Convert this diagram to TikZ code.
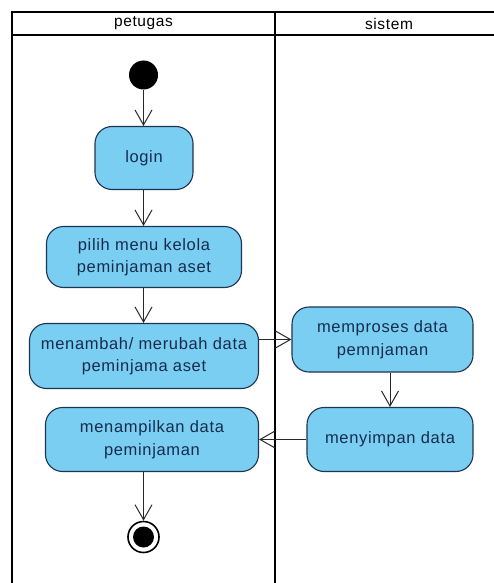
\documentclass[tikz,border=0pt]{standalone}
\usepackage{fontspec}
\setmainfont{Liberation Sans}[LetterSpace=4]
\usetikzlibrary{arrows.meta}
\definecolor{actfill}{RGB}{122,206,242}
\definecolor{actline}{RGB}{30,52,82}
\definecolor{acttext}{RGB}{22,44,78}
\definecolor{flowline}{RGB}{40,40,40}
\tikzset{
  lane/.style={line width=2.6pt, black},
  lanelabel/.style={font=\fontsize{15.5}{17}\selectfont, text=black},
  action/.style={draw=actline, fill=actfill, line width=1.1pt, rounded corners=17pt,
    align=center, text=acttext, font=\fontsize{16.5}{22.5}\selectfont, inner sep=0pt},
  startnode/.style={circle, fill=black, minimum size=29pt, inner sep=0pt},
  endnode/.style={circle, draw=black, line width=1.6pt, fill=white, minimum size=31pt, inner sep=0pt,
    path picture={\fill[black] (path picture bounding box.center) circle (10.5pt);}},
  flow/.style={draw=flowline, line width=1pt, -{Straight Barb[length=15pt,width=17pt,line width=1pt]}}
}
\begin{document}
\begin{tikzpicture}[x=1pt,y=-1pt]
\useasboundingbox (0,0) rectangle (494,583);
\fill[white] (0,0) rectangle (494,583);

% swimlane frame
\draw[lane] (12,583) -- (12,12) -- (494,12);
\draw[lane] (12,35) -- (494,35);
\draw[lane] (275,12) -- (275,583);
\node[lanelabel] (lanepetugas) at (143.5,23.5) {petugas};
\node[lanelabel] (lanesistem) at (389,23.5) {sistem};

% activities
\node[startnode] (start) at (143.5,75) {};
\node[action, minimum width=98pt, minimum height=63pt] (login) at (144,158) {login};
\node[action, minimum width=195pt, minimum height=61pt] (pilih) at (144,257) {pilih menu kelola\\peminjaman aset};
\node[action, minimum width=229pt, minimum height=65pt] (tambah) at (144,356) {menambah/ merubah data\\peminjama aset};
\node[action, minimum width=213pt, minimum height=64pt] (tampil) at (152,439.5) {menampilkan data\\peminjaman};
\node[action, minimum width=181pt, minimum height=65pt] (proses) at (382.5,339.5) {memproses data\\pemnjaman};
\node[action, minimum width=166pt, minimum height=64pt] (simpan) at (390,439.5) {menyimpan data};
\node[endnode] (end) at (143.5,537) {};

% control flows
\draw[flow] (start) -- (start |- login.north);
\draw[flow] (start |- login.south) -- (start |- pilih.north);
\draw[flow] (start |- pilih.south) -- (start |- tambah.north);
\draw[flow] (proses -| tambah.east) -- (proses.west);
\draw[flow] (proses.south -| simpan) -- (simpan.north);
\draw[flow] (simpan.west) -- (simpan -| tampil.east);
\draw[flow] (end |- tampil.south) -- (end.north);
\end{tikzpicture}
\end{document}
